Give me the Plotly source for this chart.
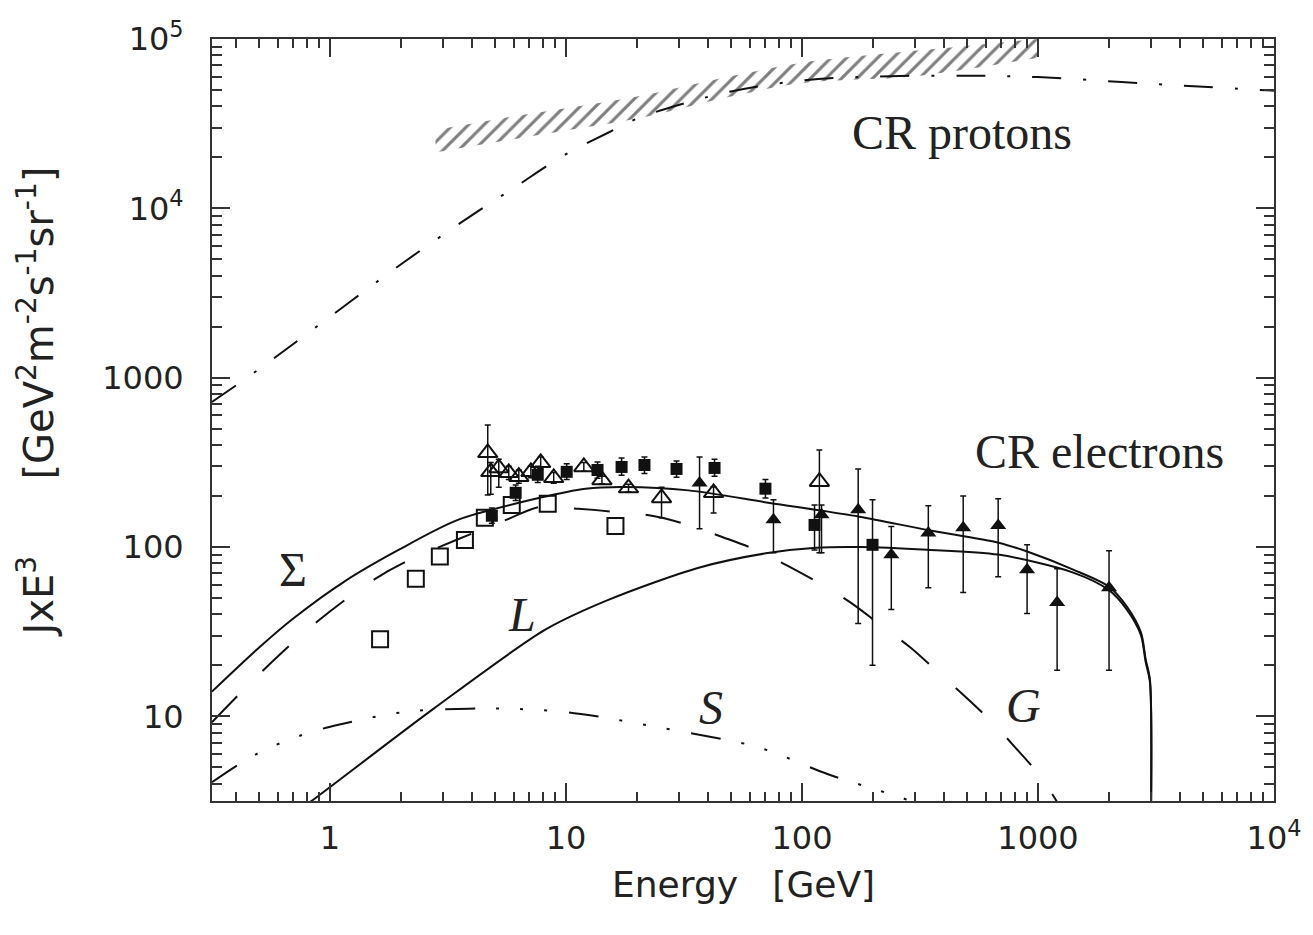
import numpy as np
import plotly.graph_objects as go

# ---------------- model curves ----------------
# CR protons (dash-dot)
prot_E = [0.316, 0.5, 1, 2, 4, 6, 10, 15, 20, 30, 50, 100, 200, 500, 1000, 3000, 10000]
prot_J = [718, 1122, 2291, 4677, 9120, 13180, 20890, 27860, 33880, 40740, 48980, 56890,
          59980, 60670, 59570, 54330, 49550]

# proton measurements (hatched band)
band_E = [2.8, 5, 10, 20, 50, 100, 300, 1000]
band_lo = [21380, 24550, 28840, 33880, 45710, 54950, 60260, 77620]
band_hi = [29000, 33500, 39000, 45710, 60260, 72440, 85110, 100000]

# electrons: total (Sigma)
sum_E = [0.316, 0.49, 0.69, 1.15, 1.96, 3.5, 7.7, 12.1, 17.8, 33, 73, 175, 340, 680, 900,
         1410, 2000, 2380, 2730, 2860, 2980, 3010]
sum_J = [14.0, 24.8, 37.3, 62.5, 96.4, 145, 195, 221, 226, 216, 182, 151, 126, 106, 94,
         73.5, 58.3, 44.5, 31.3, 21.7, 16.5, 2.5]

# electrons: local sources (L)
loc_E = [0.813, 0.855, 2.75, 8.2, 15.2, 36.5, 72.8, 115, 175, 340, 678, 1410, 2000, 2380,
         2730, 2860, 2980, 3012]
loc_J = [3.09, 3.24, 11.1, 32.6, 48.9, 75.5, 92.5, 99.1, 100, 96.4, 90.2, 70.6, 55.6, 42.7,
         30.2, 20.9, 15.9, 2.5]

# electrons: galactic component (G)
gal_E = [0.316, 0.511, 0.873, 1.535, 2.10, 5.61, 7.82, 11.3, 16.2, 23.1, 33.0, 45.6, 63.5,
         86.7, 121, 163, 219, 288, 374, 491, 634, 800, 1021, 1259]
gal_J = [9.23, 18.2, 35.8, 64.1, 81.9, 145, 173, 168, 161, 153, 135, 115, 96.4, 77.6, 60.0,
         46.3, 33.9, 25.5, 18.4, 13.1, 9.33, 6.56, 4.43, 2.82]

# electrons: secondary component (S)
sec_E = [0.316, 0.486, 0.776, 1.11, 2.06, 3.87, 5.61, 9.31, 13.5, 24.7, 32.1, 65.3, 129,
         217, 275, 355]
sec_J = [4.08, 5.97, 7.83, 8.97, 10.6, 11.1, 11.1, 10.7, 10.0, 8.61, 8.05, 6.56, 4.55,
         3.61, 3.24, 2.75]

# ---------------- electron data ----------------
osq_E = [1.63, 2.31, 2.92, 3.73, 4.53, 5.89, 8.37, 16.2]
osq_J = [28.5, 65, 88, 110, 149, 177, 180, 133]

fsq_E = [4.85, 6.12, 7.59, 10.07, 13.6, 17.2, 21.5, 29.4, 42.6, 70, 113, 199]
fsq_J = [153, 209, 267, 278, 285, 297, 305, 289, 293, 221, 135, 103]
fsq_hi = [170, 232, 300, 310, 318, 335, 340, 322, 330, 250, 177, 190]
fsq_lo = [138, 188, 240, 250, 255, 265, 272, 258, 262, 195, 96, 20]

otr_E = [4.66, 4.8, 5.19, 5.72, 6.31, 7.1, 7.81, 8.87, 11.9, 14.2, 18.4, 25.4, 42.2, 118.5]
otr_J = [360, 278, 293, 274, 260, 278, 314, 256, 297, 249, 223, 195, 209, 243]
otr_hi = [525, 315, 330, 300, 285, 300, 340, 275, 315, 262, 235, 225, 226, 374]
otr_lo = [203, 205, 225, 250, 238, 256, 290, 238, 280, 236, 211, 149, 159, 92.5]

ftr_E = [36.8, 75.7, 121, 173, 239, 343, 482, 678, 899, 1205, 2000]
ftr_J = [239, 145, 155, 166, 90, 121, 130, 134, 73.5, 47, 57.5]
ftr_hi = [340, 190, 177, 289, 132, 175, 200, 193, 103, 74.5, 95]
ftr_lo = [128, 92.5, 92.5, 35.3, 42.7, 57.5, 53.8, 66.8, 40.5, 18.7, 18.7]

INK = "#111111"
FRAME = "#333333"


def errs(y, hi, lo):
    y = np.asarray(y, float)
    return dict(type="data", symmetric=False,
                array=np.asarray(hi, float) - y,
                arrayminus=y - np.asarray(lo, float),
                color=INK, thickness=1.5, width=3)


fig = go.Figure()

# hatched proton band
fig.add_trace(go.Scatter(x=band_E, y=band_lo, mode="lines", line=dict(width=0),
                         line_shape="spline", showlegend=False, hoverinfo="skip"))
fig.add_trace(go.Scatter(x=band_E, y=band_hi, mode="lines", line=dict(width=0),
                         line_shape="spline",
                         fill="tonexty", fillcolor="rgba(0,0,0,0)",
                         fillpattern=dict(shape="/", fgcolor="#000000",
                                          bgcolor="rgba(0,0,0,0)", size=11, solidity=0.28),
                         showlegend=False, hoverinfo="skip"))

# model curves
fig.add_trace(go.Scatter(x=prot_E, y=prot_J, mode="lines", line_shape="spline",
                         line=dict(color=INK, width=2, dash="29px,22px,3px,22px"),
                         showlegend=False))
fig.add_trace(go.Scatter(x=gal_E, y=gal_J, mode="lines", line_shape="spline",
                         line=dict(color=INK, width=2, dash="36px,36px"), showlegend=False))
fig.add_trace(go.Scatter(x=sec_E, y=sec_J, mode="lines", line_shape="spline",
                         line=dict(color=INK, width=2,
                                   dash="30px,21px,3px,21px,3px,21px,3px,22px"),
                         showlegend=False))
fig.add_trace(go.Scatter(x=sum_E, y=sum_J, mode="lines", line_shape="spline",
                         line=dict(color=INK, width=2, smoothing=0.8), showlegend=False))
fig.add_trace(go.Scatter(x=loc_E, y=loc_J, mode="lines", line_shape="spline",
                         line=dict(color=INK, width=2, smoothing=0.8), showlegend=False))

# data points
fig.add_trace(go.Scatter(x=osq_E, y=osq_J, mode="markers",
                         marker=dict(symbol="square-open", size=16, color=INK,
                                     line=dict(width=2, color=INK)), showlegend=False))
fig.add_trace(go.Scatter(x=fsq_E, y=fsq_J, mode="markers", error_y=errs(fsq_J, fsq_hi, fsq_lo),
                         marker=dict(symbol="square", size=12, color=INK), showlegend=False))
fig.add_trace(go.Scatter(x=otr_E, y=otr_J, mode="markers", error_y=errs(otr_J, otr_hi, otr_lo),
                         marker=dict(symbol="triangle-up-open", size=17, color=INK,
                                     line=dict(width=2, color=INK)), showlegend=False))
fig.add_trace(go.Scatter(x=ftr_E, y=ftr_J, mode="markers", error_y=errs(ftr_J, ftr_hi, ftr_lo),
                         marker=dict(symbol="triangle-up", size=14, color=INK), showlegend=False))

# minor tick positions for the log axes
x_minor = [d * 10.0 ** k for k in range(-1, 4) for d in range(2, 10)
           if 0.316 <= d * 10.0 ** k <= 10000]
y_minor = [d * 10.0 ** k for k in range(0, 5) for d in range(2, 10)
           if 3.16 <= d * 10.0 ** k <= 100000]

axis_common = dict(type="log", showgrid=False, zeroline=False, showline=True,
                   linewidth=2, linecolor=FRAME, mirror="allticks",
                   ticks="inside", ticklen=18, tickwidth=2, tickcolor=FRAME,
                   tickfont=dict(family="DejaVu Sans", size=32, color="#222222"))

fig.update_xaxes(range=[-0.5, 4], tickmode="array",
                 tickvals=[1, 10, 100, 1000, 10000],
                 ticktext=["1", "10", "100", "1000", "10<sup>4</sup>"],
                 ticklabelstandoff=8,
                 minor=dict(tickmode="array", tickvals=x_minor, ticks="inside",
                            ticklen=9, tickwidth=2, tickcolor=FRAME, showgrid=False),
                 **axis_common)
fig.update_yaxes(range=[0.5, 5], tickmode="array",
                 tickvals=[10, 100, 1000, 10000, 100000],
                 ticktext=["10", "100", "1000", "10<sup>4</sup>", "10<sup>5</sup>"],
                 ticklabelstandoff=20,
                 minor=dict(tickmode="array", tickvals=y_minor, ticks="inside",
                            ticklen=10, tickwidth=2, tickcolor=FRAME, showgrid=False),
                 **axis_common)

serif = dict(family="Liberation Serif", size=48, color="#222222")
ital = dict(family="Liberation Serif", size=48, color="#222222")
labels = [
    dict(x=np.log10(160.0), y=np.log10(28000.0), text="CR protons", font=serif,
         xanchor="left"),
    dict(x=np.log10(531.0), y=np.log10(365.0), text="CR electrons", font=serif,
         xanchor="left"),
    dict(x=np.log10(0.697), y=np.log10(73.5), text="Σ", font=ital),
    dict(x=np.log10(6.5), y=np.log10(40.0), text="<i>L</i>", font=ital),
    dict(x=np.log10(41.0), y=np.log10(11.3), text="<i>S</i>", font=ital),
    dict(x=np.log10(865.0), y=np.log10(11.6), text="<i>G</i>", font=ital),
]
for a in labels:
    fig.add_annotation(xref="x", yref="y", showarrow=False, yanchor="middle",
                       xanchor=a.get("xanchor", "center"),
                       x=a["x"], y=a["y"], text=a["text"], font=a["font"])

fig.add_annotation(xref="paper", yref="paper", x=0.5, y=-0.11, showarrow=False,
                   text="Energy\u00a0\u00a0\u00a0[GeV]",
                   font=dict(family="DejaVu Sans", size=36, color="#222222"),
                   xanchor="center", yanchor="middle")
fig.add_annotation(xref="paper", yref="paper", x=-0.166, y=0.524, showarrow=False,
                   textangle=-90,
                   text="JxE<sup>3</sup>\u00a0\u00a0\u00a0\u00a0\u00a0\u00a0[GeV<sup>2</sup>"
                        "m<sup>-2</sup>s<sup>-1</sup>sr<sup>-1</sup>]",
                   font=dict(family="DejaVu Sans", size=40, color="#222222"),
                   xanchor="center", yanchor="middle")

fig.update_layout(width=1313, height=935, paper_bgcolor="white", plot_bgcolor="white",
                  margin=dict(l=212, r=37, t=39, b=134), showlegend=False)

fig.write_html("out.html")
